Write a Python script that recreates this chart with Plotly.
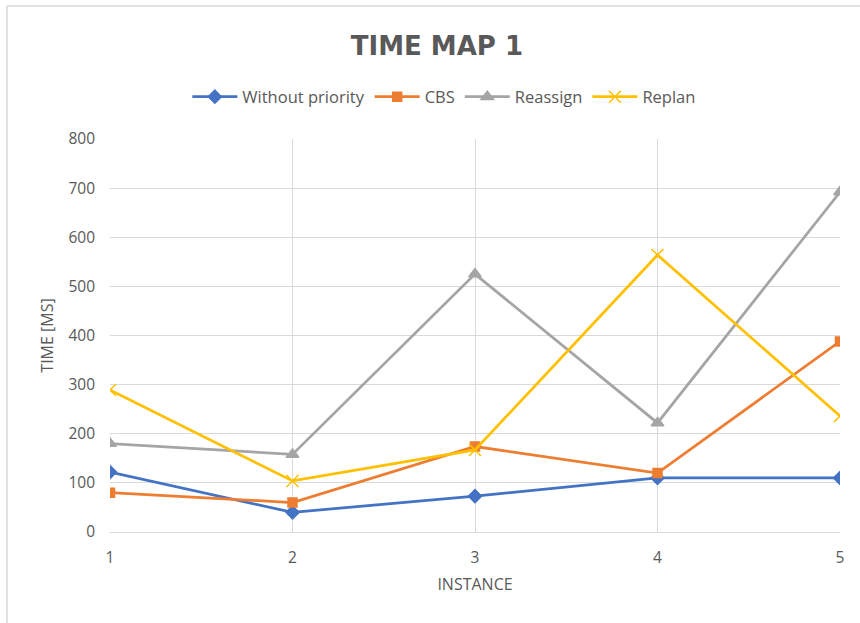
import plotly.graph_objects as go

instances = [1, 2, 3, 4, 5]
without_priority = [122, 40, 73, 110, 110]
cbs = [80, 60, 174, 120, 388]
reassign = [180, 158, 525, 222, 692]
replan = [289, 104, 167, 564, 236]

series = [
    ("Without priority", without_priority, "#4472C4", "diamond", 10),
    ("CBS", cbs, "#ED7D31", "square", 9),
    ("Reassign", reassign, "#A5A5A5", "triangle-up", 11),
    ("Replan", replan, "#FFC000", "x-thin-open", 12),
]

fig = go.Figure()
for name, vals, color, symbol, size in series:
    fig.add_trace(go.Scatter(
        x=instances, y=vals, name=name, mode="lines+markers",
        line=dict(color=color, width=2.75),
        marker=dict(symbol=symbol, size=size, color=color,
                    line=dict(color=color, width=1.5)),
    ))

text_color = "#595959"
grid_color = "#D9D9D9"

fig.update_layout(
    width=860, height=623,
    margin=dict(l=110, r=20, t=139, b=91),
    paper_bgcolor="white", plot_bgcolor="white",
    font=dict(family="Open Sans", size=15, color=text_color),
    title=dict(text="<b>TIME MAP 1</b>", x=0.508, xanchor="center",
               y=0.927, yanchor="middle",
               font=dict(family="DejaVu Sans", size=26, color=text_color)),
    legend=dict(orientation="h", x=0.458, xanchor="center", y=1.107,
                yanchor="middle", font=dict(size=16.5, color=text_color),
                itemwidth=45, tracegroupgap=0),
    showlegend=True,
)

fig.update_xaxes(
    range=[1, 5], tickvals=instances, ticktext=[str(v) for v in instances],
    showgrid=True, gridcolor=grid_color, gridwidth=1,
    showline=True, linecolor=grid_color, linewidth=1,
    zeroline=False, ticks="", ticklabelstandoff=11,
    tickfont=dict(size=15.5, color=text_color),
    title=dict(text="INSTANCE", font=dict(size=16, color=text_color), standoff=12),
)
fig.update_yaxes(
    range=[0, 800], dtick=100,
    showgrid=True, gridcolor=grid_color, gridwidth=1,
    showline=False, zeroline=False, ticks="", ticklabelstandoff=14,
    tickfont=dict(size=15.5, color=text_color),
    title=dict(text="TIME [MS]", font=dict(size=16, color=text_color), standoff=10),
)

# outer chart frame (left and top edges)
fig.add_shape(type="line", xref="paper", yref="paper",
              x0=-0.1411, x1=-0.1411, y0=1.3384, y1=-0.24,
              line=dict(color="#D9D9D9", width=1.5))
fig.add_shape(type="line", xref="paper", yref="paper",
              x0=-0.1411, x1=1.03, y0=1.3384, y1=1.3384,
              line=dict(color="#D9D9D9", width=1.5))

fig.write_html("out.html")
